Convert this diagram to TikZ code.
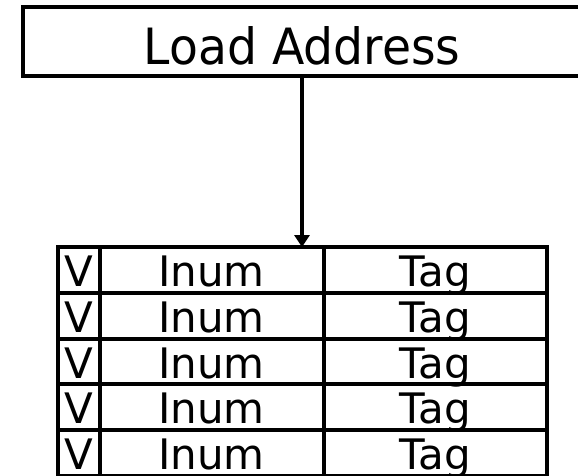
\documentclass[tikz,border=0pt]{standalone}
\usepackage{fontspec}
\setmainfont{DejaVu Sans}
\usetikzlibrary{arrows.meta}
\tikzset{
  frame/.style={draw=black, line width=4pt, inner sep=0pt, outer sep=0pt},
  titlebox/.style={frame, minimum width=559pt, minimum height=68.7pt,
    font=\fontsize{50}{50}\selectfont, text height=45.3pt, text depth=0pt},
  cell/.style={frame, minimum height=45.75pt,
    font=\fontsize{42}{42}\selectfont, text height=33.6pt, text depth=0pt},
  vcell/.style={cell, minimum width=42pt},
  icell/.style={cell, minimum width=224.2pt},
  tcell/.style={cell, minimum width=222.8pt},
  arrowline/.style={line width=4pt, -{Triangle[width=15pt,length=12pt]}}
}
\begin{document}
\begin{tikzpicture}[x=1pt,y=-1pt]
\useasboundingbox (0,0) rectangle (578,475);
\fill[white] (0,0) rectangle (578,475);
\node[titlebox] (load) at (302,41.65) {\scalebox{0.945}[1]{Load Address}};
\foreach \i in {1,...,5}{
  \pgfmathsetmacro{\yc}{247+45.75*(\i-1)+22.875}
  \node[vcell] (v\i) at (78.5,\yc) {V};
  \node[icell] (n\i) at (211.6,\yc) {Inum};
  \node[tcell] (t\i) at (435.1,\yc) {Tag};
}
\draw[arrowline] (load.south) -- (load.south |- n1.north);
\end{tikzpicture}
\end{document}
